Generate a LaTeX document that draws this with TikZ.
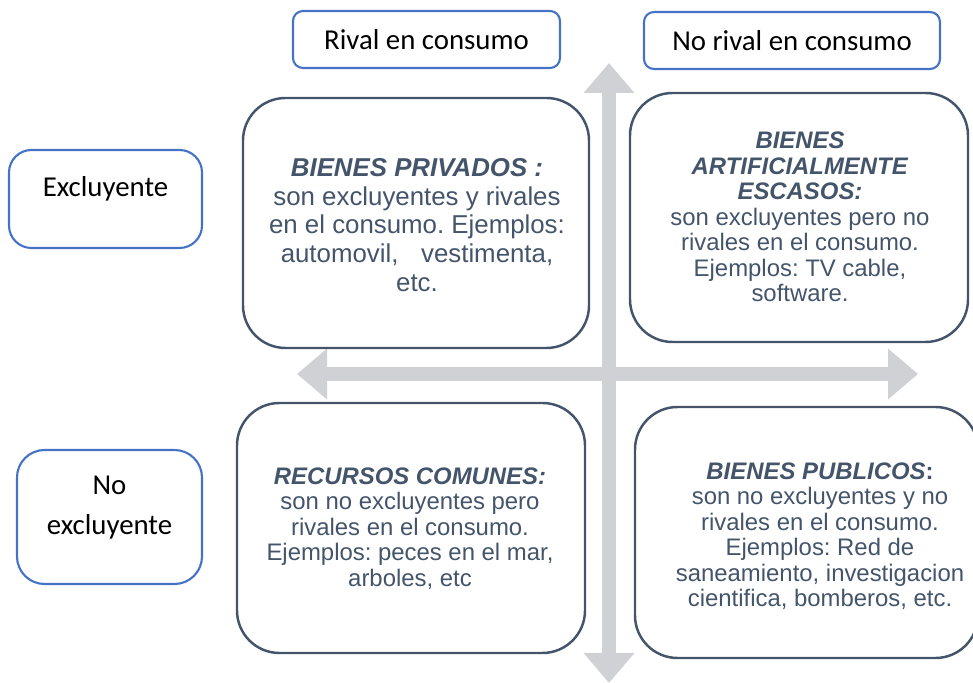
\documentclass[tikz,border=0pt]{standalone}
\usepackage{fontspec}
\setmainfont{Liberation Sans}
\newfontfamily\headfont{Carlito}
\usetikzlibrary{arrows.meta,shapes,positioning,calc}
\frenchspacing

\definecolor{slate}{HTML}{44546A}
\definecolor{accentblue}{HTML}{4472C4}
\definecolor{axisgray}{HTML}{D0D1D5}

\begin{document}
\begin{tikzpicture}[
  headbox/.style={draw=accentblue, line width=1.2pt, rounded corners=0.2cm, font=\headfont\fontsize{16.4}{20}\selectfont},
  sidebox/.style={draw=accentblue, line width=1.2pt, rounded corners=0.45cm},
  quadbox/.style={draw=slate, line width=1.4pt, rounded corners=0.85cm},
  quadtext/.style={text=slate, align=center, font=\fontsize{13.6}{14.5}\selectfont},
  axisarrow/.style={axisgray, line width=0.27cm, {Triangle[width=0.98cm,length=0.6cm]}-{Triangle[width=0.98cm,length=0.6cm]}}
]
  \useasboundingbox (0,0) rectangle (19.46,13.66);

  % Axes
  \coordinate (top) at (12.18,12.4);
  \coordinate (bottom) at (12.18,0);
  \coordinate (left) at (5.94,6.18);
  \coordinate (right) at (18.36,6.18);
  \draw[axisarrow] (bottom) -- (top);
  \draw[axisarrow] (left) -- (right);

  % Column headings
  \node[headbox, minimum width=5.34cm, minimum height=1.14cm] (rival) at (8.53,12.87) {Rival en consumo};
  \node[headbox, minimum width=5.92cm, minimum height=1.14cm] (norival) at (15.84,12.85) {No rival en consumo};

  % Row headings
  \node[sidebox, minimum width=3.86cm, minimum height=1.96cm] (excl) at (2.11,9.68) {};
  \node[font=\headfont\fontsize{16.4}{20}\selectfont] (excltxt) at (2.11,9.88) {Excluyente};
  \node[sidebox, minimum width=3.7cm, minimum height=2.68cm, rounded corners=0.55cm] (noexcl) at (2.19,3.32) {};
  \node[align=center, font=\headfont\fontsize{16.4}{22.7}\selectfont] (noexcltxt) at (2.19,3.5) {No\\excluyente};

  % Quadrants
  \node[quadbox, minimum width=6.92cm, minimum height=5cm] (privados) at (8.32,9.2) {};
  \node[quadtext, font=\fontsize{14.7}{16.4}\selectfont] (privadostxt) at (8.34,9.16)
    {\textbf{\textit{BIENES PRIVADOS :}}\\son excluyentes y rivales\\en el consumo. Ejemplos:\\automovil,\hspace{0.6em} vestimenta,\\etc.};

  \node[quadbox, minimum width=6.76cm, minimum height=4.98cm] (escasos) at (15.98,9.31) {};
  \node[quadtext] (escasostxt) at (16,9.32)
    {\textbf{\textit{BIENES}}\\\textbf{\textit{ARTIFICIALMENTE}}\\\textbf{\textit{ESCASOS:}}\\son excluyentes pero no\\rivales en el consumo.\\Ejemplos: TV cable,\\software.};

  \node[quadbox, minimum width=6.96cm, minimum height=5cm] (comunes) at (8.22,3.1) {};
  \node[quadtext] (comunestxt) at (8.2,3.09)
    {\textbf{\textit{RECURSOS COMUNES:}}\\son no excluyentes pero\\rivales en el consumo.\\Ejemplos: peces en el mar,\\arboles, etc};

  \node[quadbox, minimum width=6.86cm, minimum height=5.02cm] (publicos) at (16.13,3.01) {};
  \node[quadtext] (publicostxt) at (16.4,2.94)
    {\textbf{\textit{BIENES PUBLICOS}:}\\son no excluyentes y no\\rivales en el consumo.\\Ejemplos: Red de\\saneamiento, investigacion\\cientifica, bomberos, etc.};
\end{tikzpicture}
\end{document}
